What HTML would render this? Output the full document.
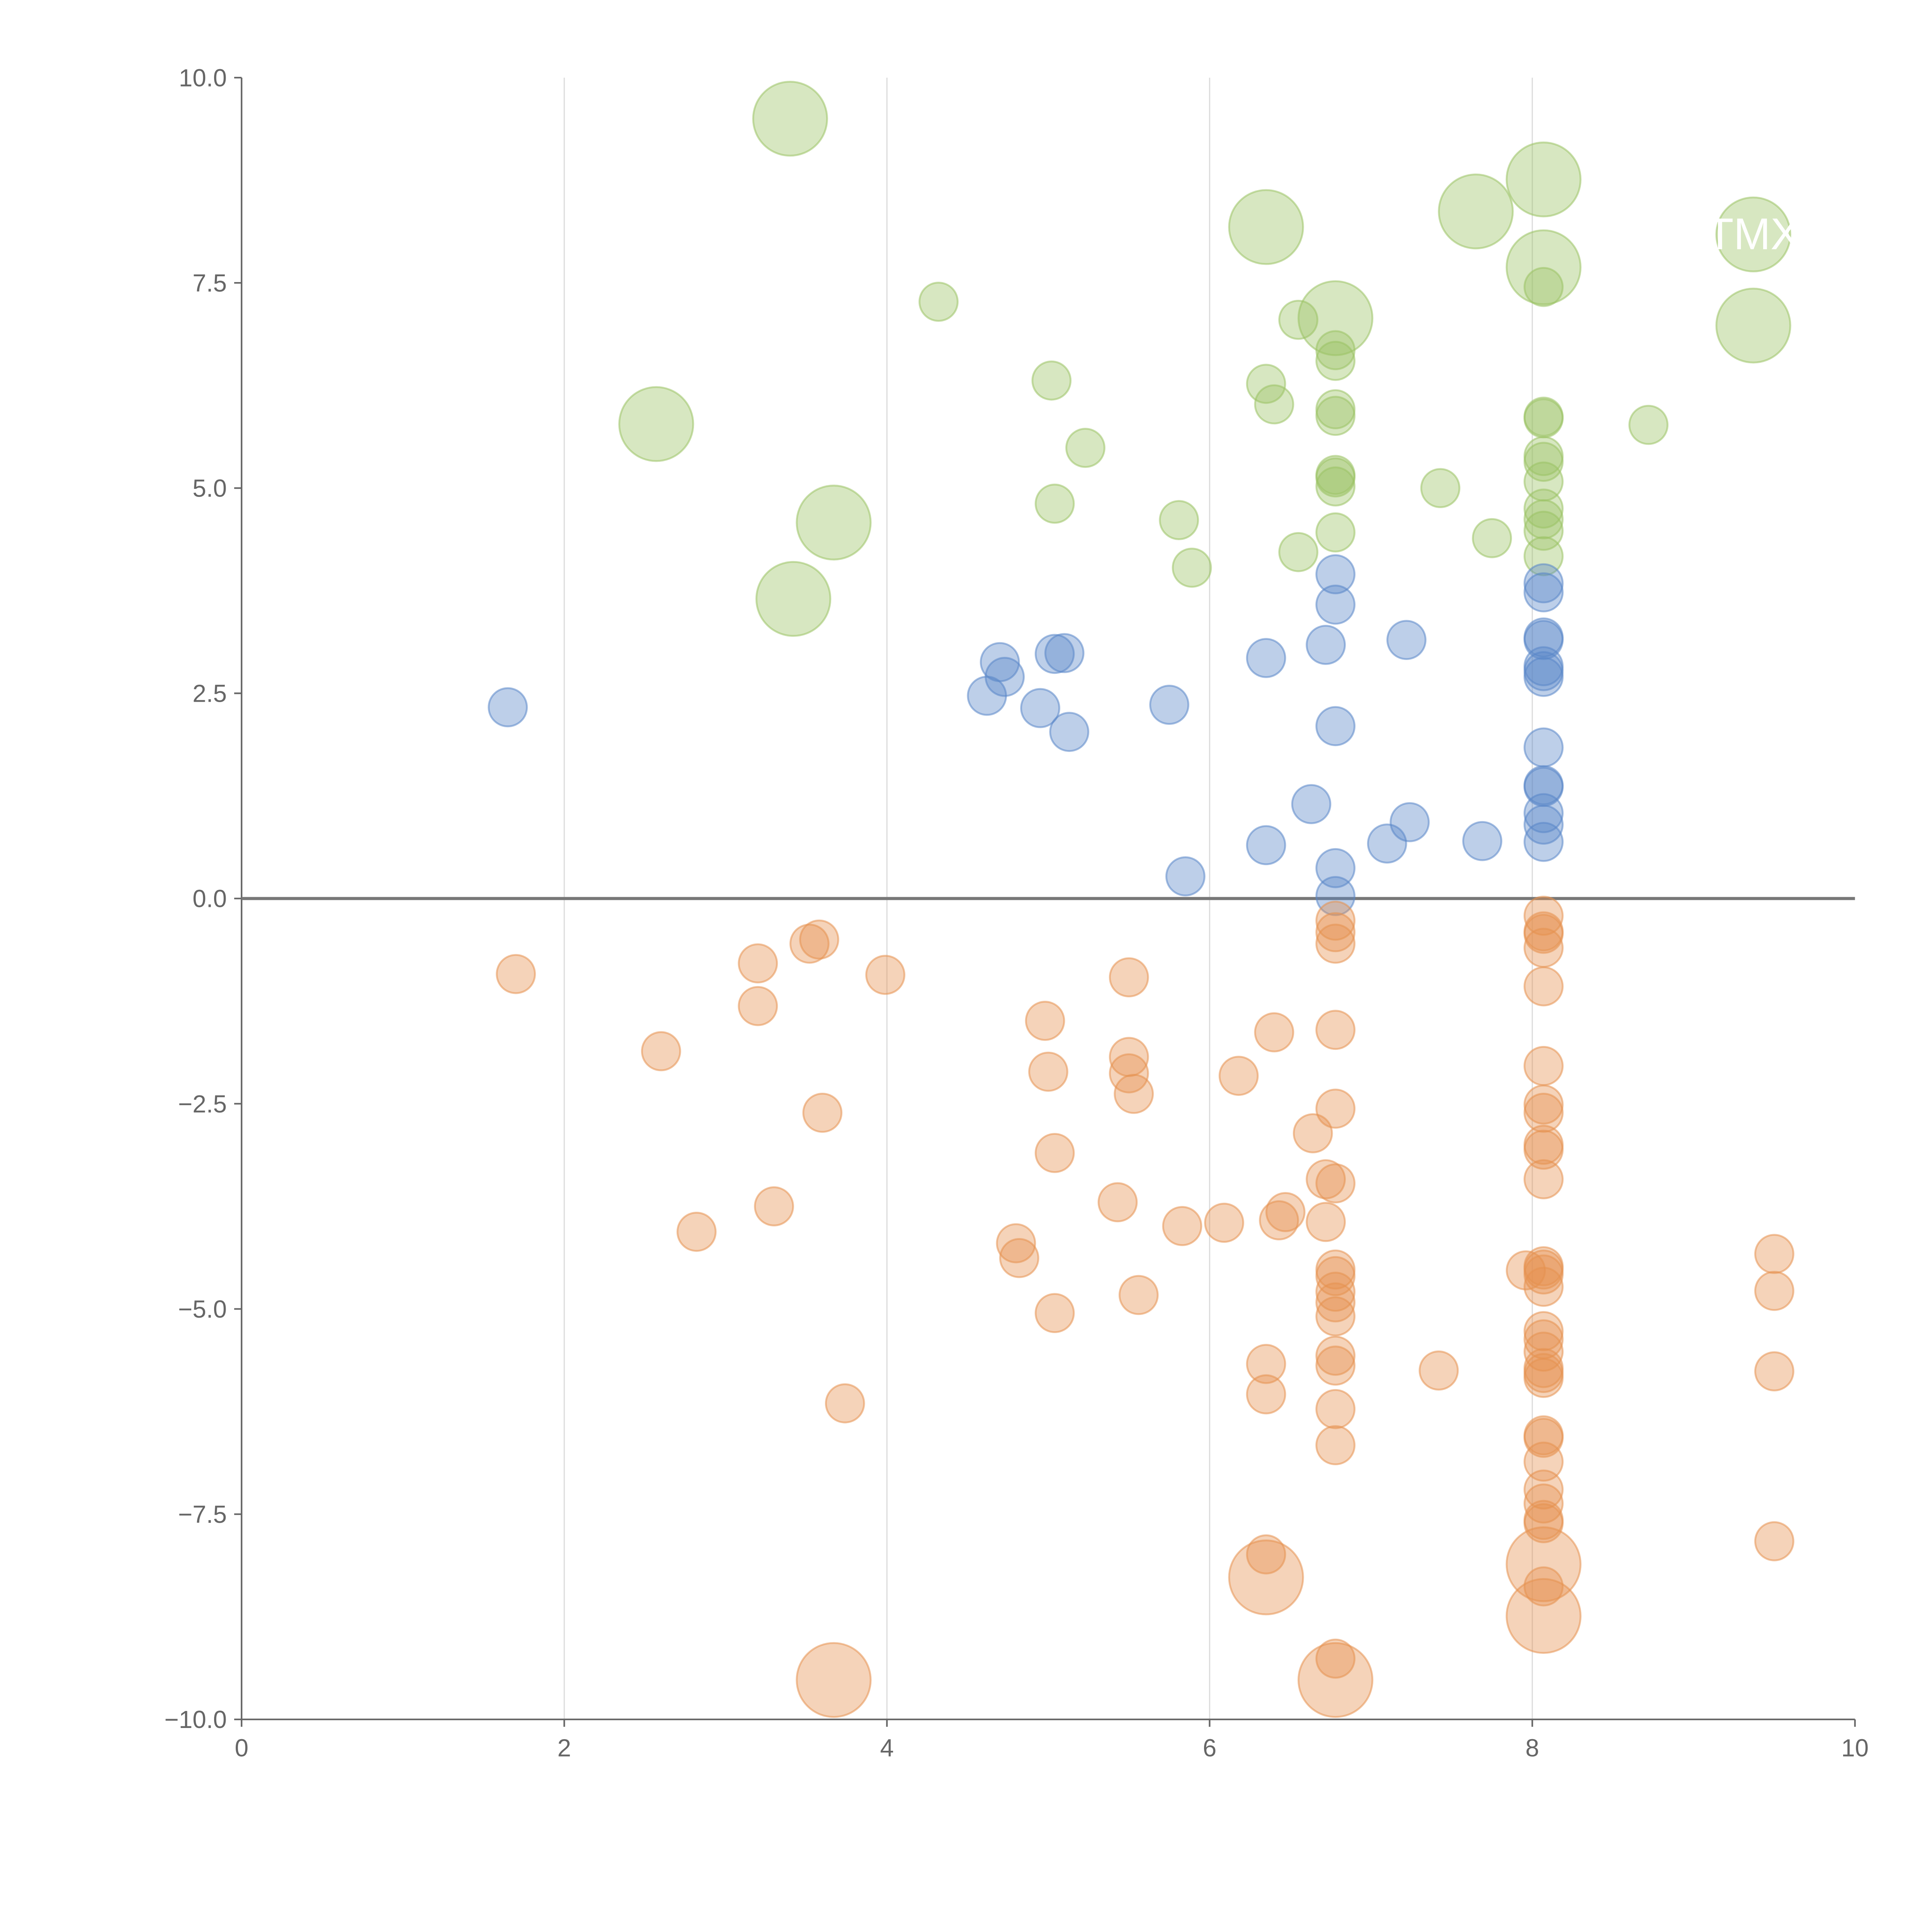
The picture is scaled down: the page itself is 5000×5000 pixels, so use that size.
<!DOCTYPE html>
<html><head><meta charset="utf-8"><style>
html,body{margin:0;padding:0;background:#fff}
svg{display:block}
text{font-family:"Liberation Sans",Arial,sans-serif}
</style></head><body>
<svg id="chart" width="5000" height="5000" viewBox="0 0 1567.5 1567.5" xmlns="http://www.w3.org/2000/svg">
<g id="grid"></g>
<g id="axes"></g>
<g id="marks"></g>
<g id="labels"></g>
</svg>
<script>
const greenX=[3.4,2.57,3.67,3.42,6.35,6.78,7.65,8.07,8.07,9.37,9.37,4.32,5.02,5.23,5.04,5.81,5.89,6.55,6.35,6.4,6.78,6.78,6.78,6.78,6.78,6.78,6.78,6.78,6.55,7.43,7.75,8.72,8.07,8.07,8.07,8.07,8.07,8.07,8.07,8.07,8.07,8.07];
const greenY=[9.5,5.78,4.58,3.65,8.18,7.07,8.37,8.76,7.69,8.09,6.98,7.27,6.31,5.49,4.81,4.61,4.03,7.05,6.27,6.02,6.68,6.55,5.96,5.88,5.16,5.13,5.02,4.46,4.22,5.0,4.39,5.77,7.45,5.87,5.85,5.39,5.32,5.08,4.75,4.62,4.48,4.17];
const greenBig=[1,1,1,1,1,1,1,1,1,1,1,0,0,0,0,0,0,0,0,0,0,0,0,0,0,0,0,0,0,0,0,0,0,0,0,0,0,0,0,0,0,0];
const blueX=[1.65,4.62,4.7,4.73,4.95,5.04,5.1,5.13,5.75,5.85,6.35,6.35,6.63,6.72,6.78,6.78,6.78,6.78,6.78,7.1,7.22,7.24,7.69,8.07,8.07,8.07,8.07,8.07,8.07,8.07,8.07,8.07,8.07,8.07,8.07,8.07];
const blueY=[2.33,2.47,2.88,2.7,2.32,2.98,2.99,2.03,2.36,0.27,2.93,0.65,1.15,3.09,3.95,3.58,2.1,0.37,0.03,0.67,3.15,0.93,0.7,3.84,3.73,3.18,3.15,2.83,2.77,2.7,1.84,1.38,1.36,1.04,0.9,0.69];
const orangeX=[1.7,2.6,2.82,3.2,3.2,3.3,3.52,3.58,3.6,3.74,3.99,4.8,4.82,4.98,5.0,5.04,5.04,5.43,5.5,5.5,5.5,5.53,5.56,5.83,6.09,6.18,6.35,6.35,6.35,6.4,6.43,6.47,6.64,6.72,6.72,6.78,6.78,6.78,6.78,6.78,6.78,6.78,6.78,6.78,6.78,6.78,6.78,6.78,6.78,6.78,6.78,7.42,7.96,8.07,8.07,8.07,8.07,8.07,8.07,8.07,8.07,8.07,8.07,8.07,8.07,8.07,8.07,8.07,8.07,8.07,8.07,8.07,8.07,8.07,8.07,8.07,8.07,8.07,8.07,8.07,8.07,8.07,9.5,9.5,9.5,9.5,3.67,6.35,6.78,8.07,8.07];
const orangeY=[-0.92,-1.86,-4.06,-0.79,-1.31,-3.75,-0.55,-0.5,-2.61,-6.15,-0.93,-4.2,-4.38,-1.49,-2.11,-3.1,-5.05,-3.7,-0.96,-1.93,-2.13,-2.38,-4.83,-3.99,-3.95,-2.16,-5.67,-6.04,-7.99,-1.63,-3.92,-3.82,-2.86,-3.42,-3.94,-0.27,-0.41,-0.55,-1.6,-2.56,-3.47,-4.52,-4.6,-4.79,-4.92,-5.09,-5.57,-5.69,-6.22,-6.66,-9.26,-5.75,-4.53,-0.21,-0.4,-0.43,-0.6,-1.07,-2.04,-2.51,-2.61,-3.0,-3.06,-3.42,-4.48,-4.52,-4.58,-4.73,-5.27,-5.37,-5.52,-5.72,-5.78,-5.84,-6.54,-6.57,-6.86,-7.2,-7.37,-7.57,-7.61,-8.38,-4.33,-4.78,-5.76,-7.83,-9.52,-8.27,-9.52,-8.11,-8.74];
const orangeBig=orangeX.map((_,i)=>i>=orangeX.length-5?1:0);
const xTicks=[0,2,4,6,8,10];
const xTickLabels=["0","2","4","6","8","10"];
const yTicks=[-10,-7.5,-5,-2.5,0,2.5,5,7.5,10];
const yTickLabels=["\u221210.0","\u22127.5","\u22125.0","\u22122.5","0.0","2.5","5.0","7.5","10.0"];

const NS="http://www.w3.org/2000/svg";
const X0=196,X1=1505,Y0=1395,Y1=63;
const sx=v=>X0+(v-0)/(10-0)*(X1-X0);
const sy=v=>Y0-(v+10)/20*(Y0-Y1);
function mk(tag,parent,attrs){const e=document.createElementNS(NS,tag);for(const k in attrs)e.setAttribute(k,attrs[k]);parent.appendChild(e);return e;}
const grid=document.getElementById('grid'),axes=document.getElementById('axes'),marks=document.getElementById('marks'),labels=document.getElementById('labels');

xTicks.forEach((t,i)=>{
  if(t>0&&t<10){const g=mk('line',grid,{x1:sx(t),x2:sx(t),y1:Y1,y2:Y0,stroke:'#dddddd','stroke-width':1});
  
  }
  const tk=mk('line',axes,{x1:sx(t),x2:sx(t),y1:Y0,y2:Y0+6,stroke:'#666','stroke-width':1.3});
  
  
  const tl=mk('text',axes,{x:sx(t),y:Y0+30,'text-anchor':'middle','font-size':20,fill:'#666'});
  tl.textContent=xTickLabels[i];
  
  
});
yTicks.forEach((t,i)=>{
  const tk=mk('line',axes,{x1:X0-6,x2:X0,y1:sy(t),y2:sy(t),stroke:'#666','stroke-width':1.3});
  
  
  const tl=mk('text',axes,{x:X0-12,y:sy(t)+7,'text-anchor':'end','font-size':20,fill:'#666'});
  tl.textContent=yTickLabels[i];
  
  
});
const xa=mk('line',axes,{x1:X0,x2:X1,y1:Y0,y2:Y0,stroke:'#666','stroke-width':1.3});


const ya=mk('line',axes,{x1:X0,x2:X0,y1:Y1,y2:Y0,stroke:'#666','stroke-width':1.3});



function series(xs,ys,big,color,name){
  xs.forEach((x,i)=>{
    const r=big[i]?30:15.5;
    const c=mk('circle',marks,{cx:sx(x),cy:sy(ys[i]),r:r,fill:color,'fill-opacity':0.4,stroke:color,'stroke-opacity':0.55,'stroke-width':1.5});
    
    
  });
}
series(greenX,greenY,greenBig,'rgb(155,195,100)','green-point');
series(blueX,blueY,blueX.map(()=>0),'rgb(90,135,200)','blue-point');
series(orangeX,orangeY,orangeBig,'rgb(230,145,80)','orange-point');

const zl=mk('line',axes,{x1:X0,x2:X1,y1:sy(0),y2:sy(0),stroke:'#777','stroke-width':2.5});



const lbl=mk('text',labels,{x:sx(9.37),y:sy(8.09)+12,'text-anchor':'middle','font-size':36,fill:'#fff'});
lbl.textContent='TMX';


</script>
</body></html>
